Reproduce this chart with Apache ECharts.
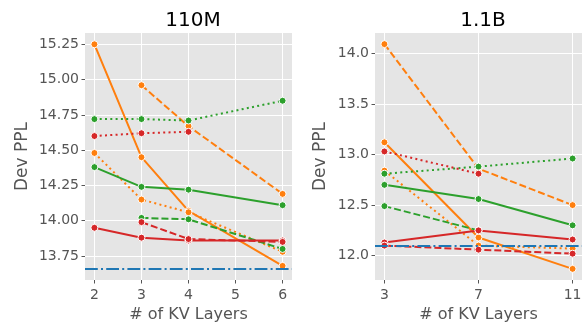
<!DOCTYPE html>
<html>
<head>
<meta charset="utf-8">
<script src="https://cdn.jsdelivr.net/npm/echarts@6/dist/echarts.min.js"></script>
<style>
  html, body { margin: 0; padding: 0; background: #fff; }
  #main { width: 585px; height: 324px; }
</style>
</head>
<body>
<div id="main"></div>
<script>
// 110M panel
const layers110 = [2, 3, 4, 6];
const orangeSolid110 = [15.25, 14.45, 14.07, 13.68];
const orangeDash110 = [null, 14.96, 14.67, 14.19];
const orangeDot110 = [14.48, 14.15, 14.06, 13.78];
const greenSolid110 = [14.38, 14.24, 14.22, 14.11];
const greenDash110 = [null, 14.02, 14.01, 13.80];
const greenDot110 = [14.72, 14.72, 14.71, 14.85];
const redSolid110 = [13.95, 13.88, 13.86, 13.86];
const redDash110 = [null, 13.99, 13.87, 13.85];
const redDot110 = [14.60, 14.62, 14.63, null];
const base110 = 13.66;
const xTicks110 = [2, 3, 4, 5, 6];
const yTicks110 = [13.75, 14.00, 14.25, 14.50, 14.75, 15.00, 15.25];

// 1.1B panel
const layers11b = [3, 7, 11];
const orangeSolid11b = [13.12, 12.18, 11.87];
const orangeDash11b = [14.09, 12.86, 12.50];
const orangeDot11b = [12.84, 12.10, 12.07];
const greenSolid11b = [12.70, 12.56, 12.30];
const greenDash11b = [12.49, 12.25, null];
const greenDot11b = [12.81, 12.88, 12.96];
const redSolid11b = [12.13, 12.25, 12.16];
const redDash11b = [12.10, 12.06, 12.02];
const redDot11b = [13.03, 12.81, null];
const base11b = 12.10;
const xTicks11b = [3, 7, 11];
const yTicks11b = [12.0, 12.5, 13.0, 13.5, 14.0];

const ORANGE = '#ff7f0e', GREEN = '#2ca02c', RED = '#d62728', BLUE = '#1f77b4';
const DASH = [7, 3], DOT = [2, 3.3], DASHDOT = [12.8, 3.2, 2, 3.2];
const FONT = 'DejaVu Sans';

function pairs(xs, ys) {
    return xs.map((x, i) => [x, ys[i]]).filter(p => p[1] != null);
}

function line(idx, xs, ys, color, type) {
    return {
        type: 'line',
        xAxisIndex: idx,
        yAxisIndex: idx,
        data: pairs(xs, ys),
        symbol: 'circle',
        symbolSize: 7,
        animation: false,
        lineStyle: { color: color, width: 2, type: type },
        itemStyle: { color: color, borderColor: '#fff', borderWidth: 1 },
        z: 3
    };
}

function baseline(idx, value) {
    return {
        type: 'line',
        xAxisIndex: idx,
        yAxisIndex: idx,
        data: [],
        animation: false,
        markLine: {
            silent: true,
            symbol: 'none',
            label: { show: false },
            lineStyle: { color: BLUE, width: 2, type: DASHDOT },
            data: [{ yAxis: value }]
        },
        z: 2
    };
}

function xAxis(idx, min, max, ticks) {
    return {
        type: 'value', gridIndex: idx, min: min, max: max,
        name: '# of KV Layers', nameLocation: 'middle', nameGap: 27,
        nameTextStyle: { color: '#555', fontSize: 16, fontFamily: FONT },
        axisLine: { show: false, onZero: false },
        axisTick: { show: true, length: 3.5, customValues: ticks, lineStyle: { color: '#555', width: 1 } },
        axisLabel: { customValues: ticks, color: '#555', fontSize: 14, fontFamily: FONT, margin: 8 },
        splitLine: { show: true, lineStyle: { color: '#fff', width: 1 } }
    };
}

function yAxis(idx, min, max, ticks, digits, gap) {
    return {
        type: 'value', gridIndex: idx, min: min, max: max,
        name: 'Dev PPL', nameLocation: 'middle', nameRotate: 90, nameGap: gap,
        nameTextStyle: { color: '#555', fontSize: 17, fontFamily: FONT },
        axisLine: { show: false },
        axisTick: { show: true, length: 3.5, customValues: ticks, lineStyle: { color: '#555', width: 1 } },
        axisLabel: { customValues: ticks, color: '#555', fontSize: 14, fontFamily: FONT, margin: 6,
            formatter: v => v.toFixed(digits) },
        splitLine: { show: true, lineStyle: { color: '#fff', width: 1 } }
    };
}

const chart = echarts.init(document.getElementById('main'));
chart.setOption({
    backgroundColor: '#fff',
    animation: false,
    title: [
        { text: '110M', left: 188, top: 6, textAlign: 'center',
          textStyle: { color: '#000', fontSize: 20, fontWeight: 'normal', fontFamily: FONT } },
        { text: '1.1B', left: 478, top: 6, textAlign: 'center',
          textStyle: { color: '#000', fontSize: 20, fontWeight: 'normal', fontFamily: FONT } }
    ],
    grid: [
        { left: 85, top: 33, width: 207, height: 247, backgroundColor: '#e5e5e5', show: true, borderWidth: 0,
          outerBoundsMode: 'none', containLabel: false },
        { left: 375, top: 33, width: 207, height: 247, backgroundColor: '#e5e5e5', show: true, borderWidth: 0,
          outerBoundsMode: 'none', containLabel: false }
    ],
    xAxis: [
        xAxis(0, 1.8, 6.2, xTicks110),
        xAxis(1, 2.6, 11.4, xTicks11b)
    ],
    yAxis: [
        yAxis(0, 13.58, 15.33, yTicks110, 2, 54),
        yAxis(1, 11.76, 14.2, yTicks11b, 1, 46)
    ],
    series: [
        baseline(0, base110),
        line(0, layers110, orangeSolid110, ORANGE, 'solid'),
        line(0, layers110, orangeDash110, ORANGE, DASH),
        line(0, layers110, orangeDot110, ORANGE, DOT),
        line(0, layers110, greenSolid110, GREEN, 'solid'),
        line(0, layers110, greenDash110, GREEN, DASH),
        line(0, layers110, greenDot110, GREEN, DOT),
        line(0, layers110, redSolid110, RED, 'solid'),
        line(0, layers110, redDash110, RED, DASH),
        line(0, layers110, redDot110, RED, DOT),

        baseline(1, base11b),
        line(1, layers11b, orangeSolid11b, ORANGE, 'solid'),
        line(1, layers11b, orangeDash11b, ORANGE, DASH),
        line(1, layers11b, orangeDot11b, ORANGE, DOT),
        line(1, layers11b, greenSolid11b, GREEN, 'solid'),
        line(1, layers11b, greenDash11b, GREEN, DASH),
        line(1, layers11b, greenDot11b, GREEN, DOT),
        line(1, layers11b, redSolid11b, RED, 'solid'),
        line(1, layers11b, redDash11b, RED, DASH),
        line(1, layers11b, redDot11b, RED, DOT)
    ]
});
</script>
</body>
</html>
